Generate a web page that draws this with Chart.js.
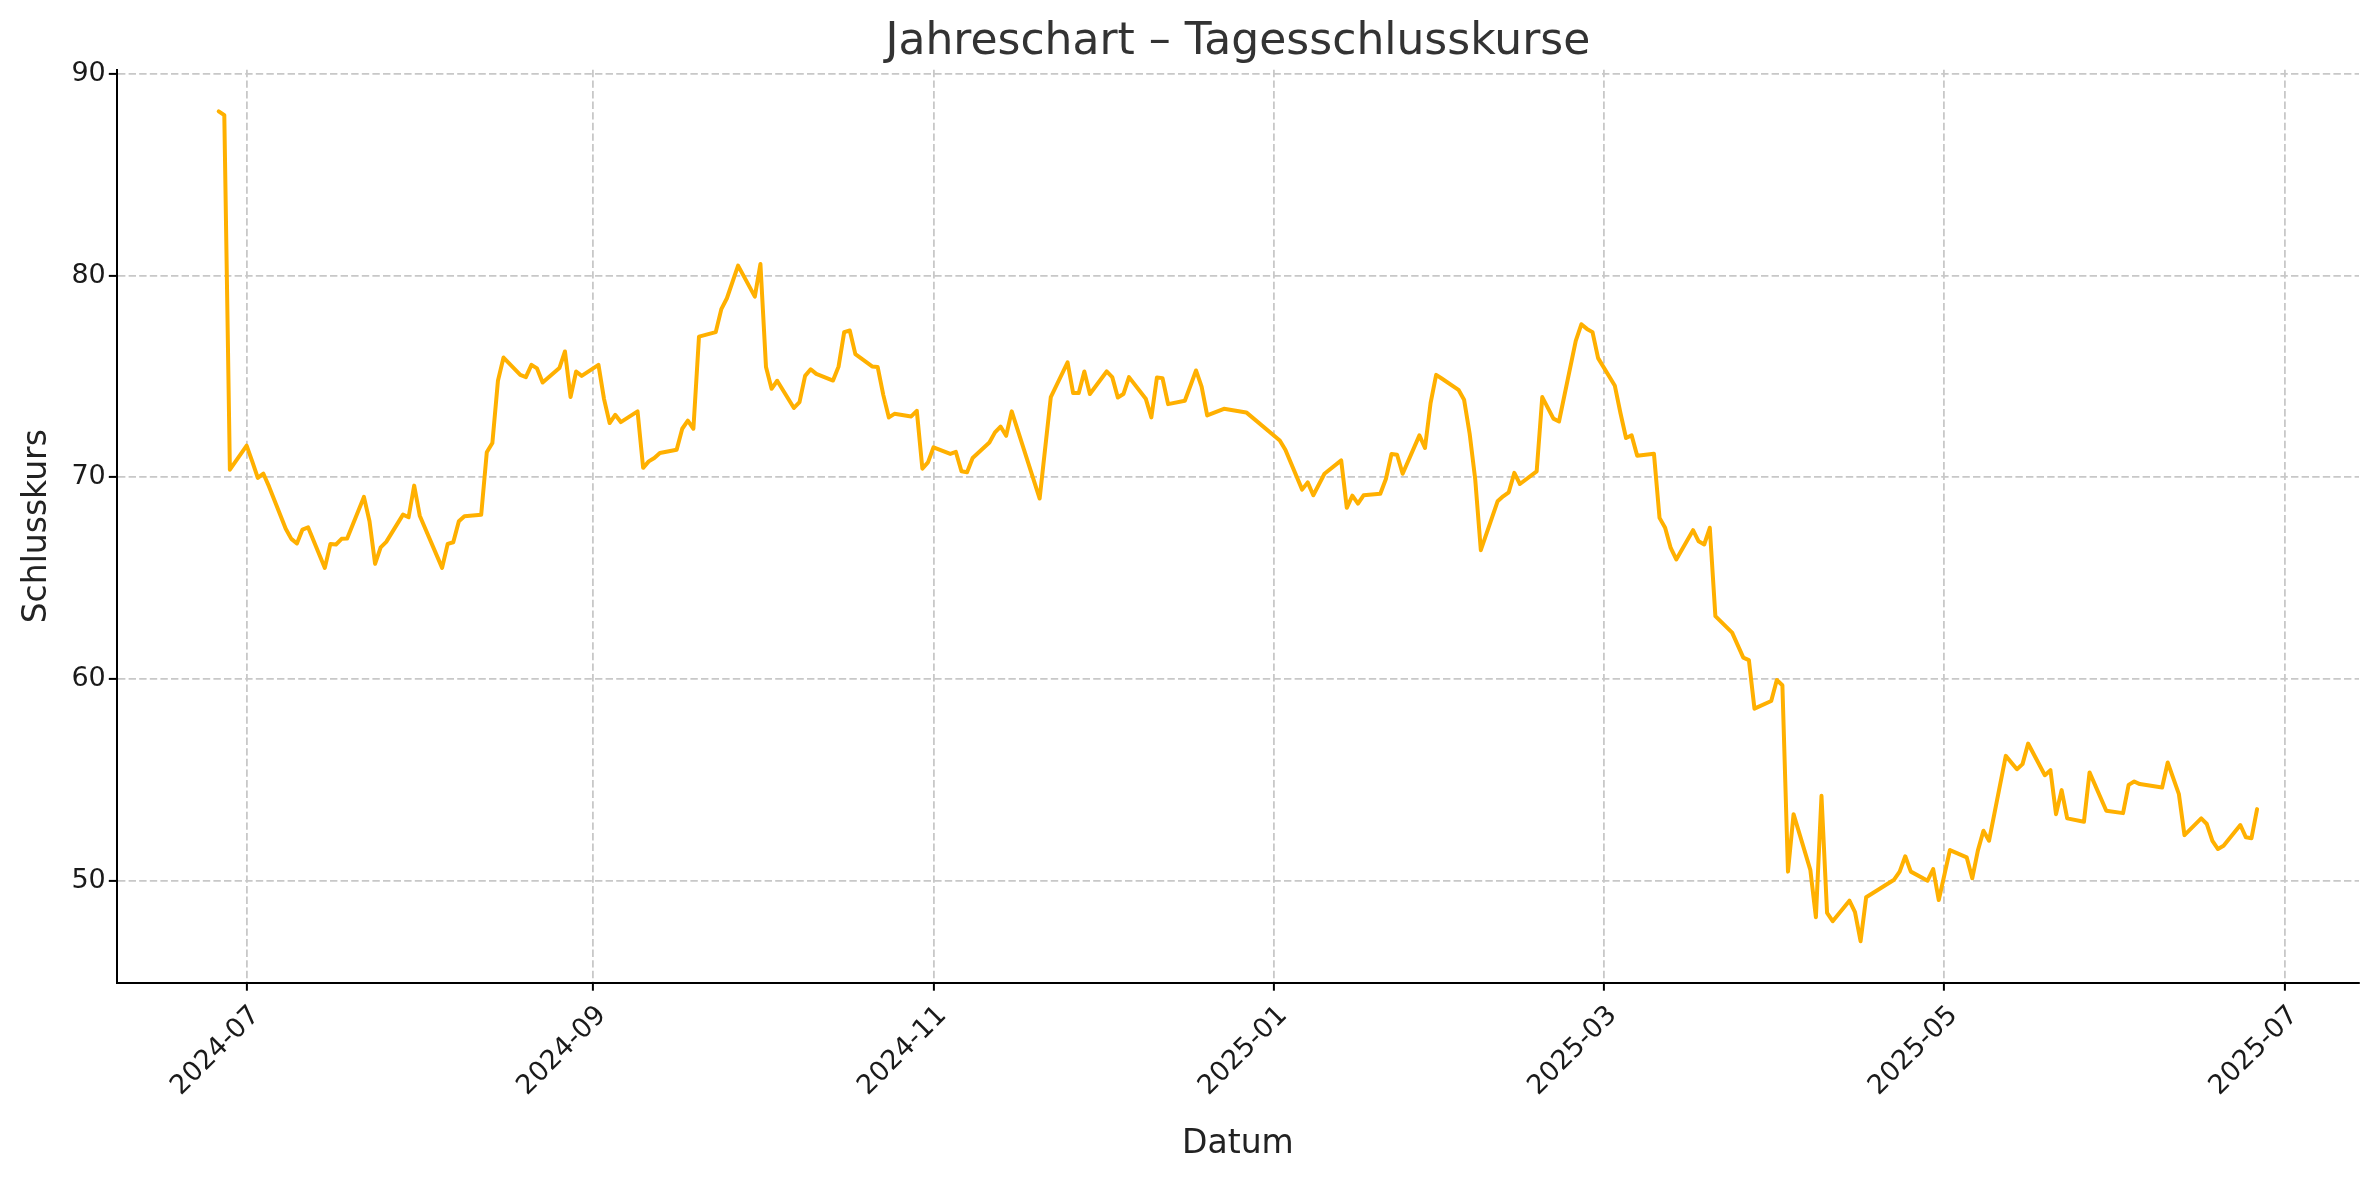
<!DOCTYPE html>
<html>
<head>
<meta charset="utf-8">
<script src="https://cdn.jsdelivr.net/npm/chart.js@4.4.1/dist/chart.umd.min.js"></script>
<style>
html,body{margin:0;padding:0;background:#ffffff;}
canvas{display:block;}
</style>
</head>
<body>
<canvas id="c" width="2379" height="1180" style="width:2379px;height:1180px"></canvas>
<script>
const dates = [
  '2024-06-26','2024-06-27','2024-06-28','2024-07-01','2024-07-02','2024-07-03','2024-07-04','2024-07-05','2024-07-08','2024-07-09','2024-07-10','2024-07-11','2024-07-12','2024-07-15','2024-07-16','2024-07-17','2024-07-18','2024-07-19','2024-07-22','2024-07-23','2024-07-24','2024-07-25','2024-07-26','2024-07-29','2024-07-30','2024-07-31',
  '2024-08-01','2024-08-05','2024-08-06','2024-08-07','2024-08-08','2024-08-09','2024-08-12','2024-08-13','2024-08-14','2024-08-15','2024-08-16','2024-08-19','2024-08-20','2024-08-21','2024-08-22','2024-08-23','2024-08-26','2024-08-27','2024-08-28','2024-08-29','2024-08-30',
  '2024-09-02','2024-09-03','2024-09-04','2024-09-05','2024-09-06','2024-09-09','2024-09-10','2024-09-11','2024-09-12','2024-09-13','2024-09-16','2024-09-17','2024-09-18','2024-09-19','2024-09-20','2024-09-23','2024-09-24','2024-09-25','2024-09-27','2024-09-30',
  '2024-10-01','2024-10-02','2024-10-03','2024-10-04','2024-10-07','2024-10-08','2024-10-09','2024-10-10','2024-10-11','2024-10-14','2024-10-15','2024-10-16','2024-10-17','2024-10-18','2024-10-21','2024-10-22','2024-10-23','2024-10-24','2024-10-25','2024-10-28','2024-10-29','2024-10-30','2024-10-31',
  '2024-11-01','2024-11-04','2024-11-05','2024-11-06','2024-11-07','2024-11-08','2024-11-11','2024-11-12','2024-11-13','2024-11-14','2024-11-15','2024-11-20','2024-11-22','2024-11-25','2024-11-26','2024-11-27','2024-11-28','2024-11-29',
  '2024-12-02','2024-12-03','2024-12-04','2024-12-05','2024-12-06','2024-12-09','2024-12-10','2024-12-11','2024-12-12','2024-12-13','2024-12-16','2024-12-17','2024-12-18','2024-12-19','2024-12-20','2024-12-23','2024-12-27',
  '2025-01-02','2025-01-03','2025-01-06','2025-01-07','2025-01-08','2025-01-10','2025-01-13','2025-01-14','2025-01-15','2025-01-16','2025-01-17','2025-01-20','2025-01-21','2025-01-22','2025-01-23','2025-01-24','2025-01-27','2025-01-28','2025-01-29','2025-01-30','2025-01-31',
  '2025-02-03','2025-02-04','2025-02-05','2025-02-06','2025-02-07','2025-02-10','2025-02-11','2025-02-12','2025-02-13','2025-02-14','2025-02-17','2025-02-18','2025-02-20','2025-02-21','2025-02-24','2025-02-25','2025-02-26','2025-02-27','2025-02-28',
  '2025-03-03','2025-03-04','2025-03-05','2025-03-06','2025-03-07','2025-03-10','2025-03-11','2025-03-12','2025-03-13','2025-03-14','2025-03-17','2025-03-18','2025-03-19','2025-03-20','2025-03-21','2025-03-24','2025-03-25','2025-03-26','2025-03-27','2025-03-28','2025-03-31',
  '2025-04-01','2025-04-02','2025-04-03','2025-04-04','2025-04-07','2025-04-08','2025-04-09','2025-04-10','2025-04-11','2025-04-14','2025-04-15','2025-04-16','2025-04-17','2025-04-22','2025-04-23','2025-04-24','2025-04-25','2025-04-28','2025-04-29','2025-04-30',
  '2025-05-02','2025-05-05','2025-05-06','2025-05-07','2025-05-08','2025-05-09','2025-05-12','2025-05-14','2025-05-15','2025-05-16','2025-05-19','2025-05-20','2025-05-21','2025-05-22','2025-05-23','2025-05-26','2025-05-27','2025-05-30',
  '2025-06-02','2025-06-03','2025-06-04','2025-06-05','2025-06-09','2025-06-10','2025-06-12','2025-06-13','2025-06-16','2025-06-17','2025-06-18','2025-06-19','2025-06-20','2025-06-23','2025-06-24','2025-06-25','2025-06-26'
];
const closes = [
  88.15,87.96,70.38,71.57,70.79,69.97,70.18,69.55,67.45,66.95,66.72,67.41,67.52,65.51,66.70,66.67,66.95,66.97,69.03,67.82,65.71,66.53,66.80,68.15,68.02,69.59,
  68.10,65.51,66.70,66.78,67.82,68.07,68.14,71.24,71.70,74.79,75.94,75.08,74.97,75.58,75.40,74.70,75.42,76.24,73.98,75.25,75.03,
  75.58,73.88,72.69,73.10,72.74,73.27,70.47,70.79,70.96,71.21,71.37,72.41,72.81,72.41,76.98,77.20,78.34,78.88,80.50,78.96,
  80.58,75.47,74.39,74.79,73.44,73.73,75.03,75.36,75.13,74.80,75.50,77.20,77.28,76.11,75.50,75.47,74.09,72.97,73.15,73.02,73.30,70.43,70.74,
  71.49,71.16,71.26,70.30,70.25,70.96,71.73,72.23,72.52,72.06,73.27,68.95,73.98,75.70,74.18,74.18,75.25,74.13,
  75.25,74.97,73.96,74.13,74.97,73.90,72.97,74.95,74.92,73.63,73.80,74.54,75.30,74.50,73.07,73.40,73.22,
  71.83,71.37,69.39,69.75,69.11,70.18,70.84,68.49,69.09,68.70,69.11,69.19,69.92,71.16,71.12,70.18,72.08,71.46,73.68,75.08,74.90,
  74.34,73.85,72.16,69.89,66.39,68.81,69.06,69.26,70.22,69.67,70.30,73.98,72.91,72.77,76.77,77.59,77.36,77.20,75.91,
  74.54,73.19,71.95,72.08,71.07,71.17,67.99,67.50,66.50,65.93,67.38,66.83,66.67,67.50,63.12,62.30,61.68,61.06,60.94,58.53,58.91,
  59.95,59.69,50.45,53.30,50.54,48.19,54.21,48.40,47.99,49.01,48.44,47.00,49.18,50.05,50.45,51.21,50.45,50.00,50.58,49.04,
  51.52,51.16,50.12,51.49,52.48,51.98,56.19,55.53,55.78,56.80,55.23,55.48,53.30,54.49,53.09,52.92,55.37,53.47,
  53.35,54.75,54.92,54.79,54.62,55.86,54.29,52.26,53.09,52.81,51.98,51.57,51.73,52.76,52.15,52.11,53.55
];
const yTickValues = [50, 60, 70, 80, 90];
const xTickLabels = ['2024-07','2024-09','2024-11','2025-01','2025-03','2025-05','2025-07'];

const FONT = "'DejaVu Sans', 'Liberation Sans', sans-serif";
const DAY = 86400000;
const ORIGIN = Date.UTC(2024, 6, 1);
function toDay(s) {
  const p = s.split('-').map(Number);
  return (Date.UTC(p[0], p[1] - 1, p[2] || 1) - ORIGIN) / DAY;
}
const points = dates.map((d, i) => ({ x: toDay(d), y: closes[i] }));
const xs = points.map(p => p.x);
const xMin = Math.min(...xs), xMax = Math.max(...xs), xPad = (xMax - xMin) * 0.05;
const yLo = Math.min(...closes), yHi = Math.max(...closes), yPad = (yHi - yLo) * 0.05;

Chart.defaults.font.family = FONT;

new Chart(document.getElementById('c'), {
  type: 'line',
  data: {
    datasets: [{
      data: points,
      borderColor: '#FFB000',
      borderWidth: 4,
      pointRadius: 0,
      pointHoverRadius: 0,
      tension: 0,
      fill: false,
      borderJoinStyle: 'round',
      borderCapStyle: 'round'
    }]
  },
  options: {
    responsive: false,
    devicePixelRatio: 1,
    animation: false,
    events: [],
    layout: { padding: { left: 0, right: 20, top: 0, bottom: 0 } },
    plugins: {
      legend: { display: false },
      tooltip: { enabled: false },
      title: {
        display: true,
        fullSize: false,
        align: 'center',
        text: 'Jahreschart – Tagesschlusskurse',
        color: '#333333',
        font: { family: FONT, size: 44, weight: 'normal', lineHeight: 1.2 },
        padding: { top: 16, bottom: 1 }
      }
    },
    scales: {
      x: {
        type: 'linear',
        min: xMin - xPad,
        max: xMax + xPad,
        afterBuildTicks: s => { s.ticks = xTickLabels.map(l => ({ value: toDay(l) })); },
        afterFit: s => { s.height = 197.3; },
        ticks: {
          autoSkip: false,
          maxRotation: 45,
          minRotation: 45,
          padding: 9,
          labelOffset: 9,
          color: '#1a1a1a',
          font: { family: FONT, size: 27 },
          callback: (v, i) => xTickLabels[i]
        },
        grid: {
          color: '#c8c8c8',
          lineWidth: 1.8,
          drawTicks: true,
          tickLength: 8,
          tickColor: '#000000',
          tickWidth: 2,
          tickBorderDash: []
        },
        border: { display: true, color: '#000000', width: 2, dash: [7.4, 3.2] },
        title: {
          display: true,
          text: 'Datum',
          color: '#222222',
          font: { family: FONT, size: 33, lineHeight: 1.2 },
          padding: { top: 0, bottom: 16 }
        }
      },
      y: {
        type: 'linear',
        min: yLo - yPad,
        max: yHi + yPad,
        afterBuildTicks: s => { s.ticks = yTickValues.map(v => ({ value: v })); },
        afterFit: s => { s.width = 116.8; },
        ticks: {
          padding: 3,
          color: '#1a1a1a',
          font: { family: FONT, size: 27 }
        },
        grid: {
          color: '#c8c8c8',
          lineWidth: 1.8,
          drawTicks: true,
          tickLength: 8,
          tickColor: '#000000',
          tickWidth: 2,
          tickBorderDash: []
        },
        border: { display: true, color: '#000000', width: 2, dash: [7.4, 3.2] },
        title: {
          display: true,
          text: 'Schlusskurs',
          color: '#222222',
          font: { family: FONT, size: 33, lineHeight: 1.2 },
          padding: { top: 18, bottom: 0 }
        }
      }
    }
  }
});
</script>
</body>
</html>
